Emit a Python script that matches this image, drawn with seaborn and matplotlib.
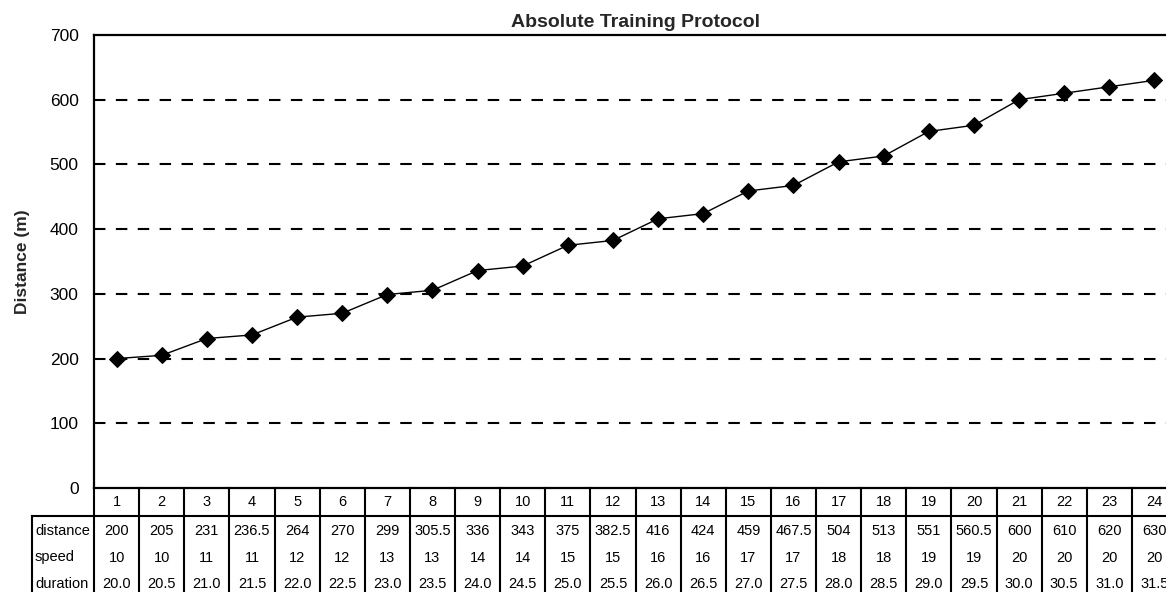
import pandas as pd
import matplotlib.pyplot as plt
import seaborn as sns
from matplotlib.transforms import blended_transform_factory

# Stage numbers and protocol values
stages = list(range(1, 25))
distance = [200, 205, 231, 236.5, 264, 270, 299, 305.5, 336, 343, 375, 382.5,
            416, 424, 459, 467.5, 504, 513, 551, 560.5, 600, 610, 620, 630]
speed = [10, 10, 11, 11, 12, 12, 13, 13, 14, 14, 15, 15,
         16, 16, 17, 17, 18, 18, 19, 19, 20, 20, 20, 20]
duration = [20.0, 20.5, 21.0, 21.5, 22.0, 22.5, 23.0, 23.5, 24.0, 24.5, 25.0, 25.5,
            26.0, 26.5, 27.0, 27.5, 28.0, 28.5, 29.0, 29.5, 30.0, 30.5, 31.0, 31.5]
row_names = ['distance', 'speed', 'duration']
y_ticks = [0, 100, 200, 300, 400, 500, 600, 700]

data = pd.DataFrame({'stage': stages, 'distance': distance})

sns.set_theme(style='white')
plt.rcParams['font.family'] = ['Liberation Sans', 'DejaVu Sans']

W, H = 1166, 592
fig = plt.figure(figsize=(W / 100, H / 100), dpi=100)
# axes box in pixels: left 94, right 1177 (runs past the edge), top 35, bottom 488
ax_l, ax_r, ax_t, ax_b = 94, 1177, 35, 488
ax_w, ax_h = ax_r - ax_l, ax_b - ax_t
ax = fig.add_axes([ax_l / W, 1 - ax_b / H, ax_w / W, ax_h / H])

sns.lineplot(data=data, x='stage', y='distance', ax=ax, color='black', lw=1,
             marker='D', markersize=8, markeredgecolor='black', zorder=5)

for v in y_ticks[1:-1]:
    ax.axhline(v, color='black', lw=1.5, dashes=(5.5, 5), zorder=1)

# --- table under the axis (header row of stage numbers + three value rows) ---
trans = blended_transform_factory(ax.transData, ax.transAxes)


def ay(py):
    # pixel row -> axes fraction
    return (ax_b - py) / ax_h


edges = [s - 0.5 for s in stages] + [stages[-1] + 0.5]
lw = 1.5
line_kw = dict(color='black', lw=lw, clip_on=False, solid_capstyle='projecting')
head_bot, tab_bot = 516, 610
lab_x = (32 - ax_l) / ax_w

for e in edges:
    ax.plot([e, e], [ay(ax_b), ay(tab_bot)], transform=trans, **line_kw)
ax.plot([lab_x, 1], [ay(head_bot), ay(head_bot)], transform=ax.transAxes, **line_kw)
ax.plot([lab_x, lab_x], [ay(head_bot), ay(tab_bot)], transform=ax.transAxes, **line_kw)

txt_kw = dict(fontsize=10.5, color='black', ha='center', va='center', clip_on=False)
for s in stages:
    ax.text(s, ay(502), str(s), transform=trans, **txt_kw)

row_text = [[str(v) for v in distance],
            [str(v) for v in speed],
            [f'{v:.1f}' for v in duration]]
row_y = [531, 557.5, 584]
for name, vals, py in zip(row_names, row_text, row_y):
    ax.text((35 - ax_l) / ax_w, ay(py), name, transform=ax.transAxes,
            **{**txt_kw, 'ha': 'left'})
    for s, v in zip(stages, vals):
        ax.text(s, ay(py), v, transform=trans, **txt_kw)

ax.set_xlim(0.5, 24.5)
ax.set_ylim(0, 700)
ax.set_yticks(y_ticks)
ax.set_yticklabels([str(v) for v in y_ticks], fontsize=12.5)
ax.set_xticks([])
ax.set_xlabel('')
ax.set_ylabel('Distance (m)', fontsize=12.5, fontweight='bold', labelpad=14)
ax.set_title('Absolute Training Protocol', fontsize=14, fontweight='bold', pad=6)
ax.tick_params(axis='y', direction='in', length=4, width=1.5, pad=11, colors='black')

for s in ax.spines.values():
    s.set_linewidth(1.6)
    s.set_color('black')

plt.savefig('out.png', dpi=100)
